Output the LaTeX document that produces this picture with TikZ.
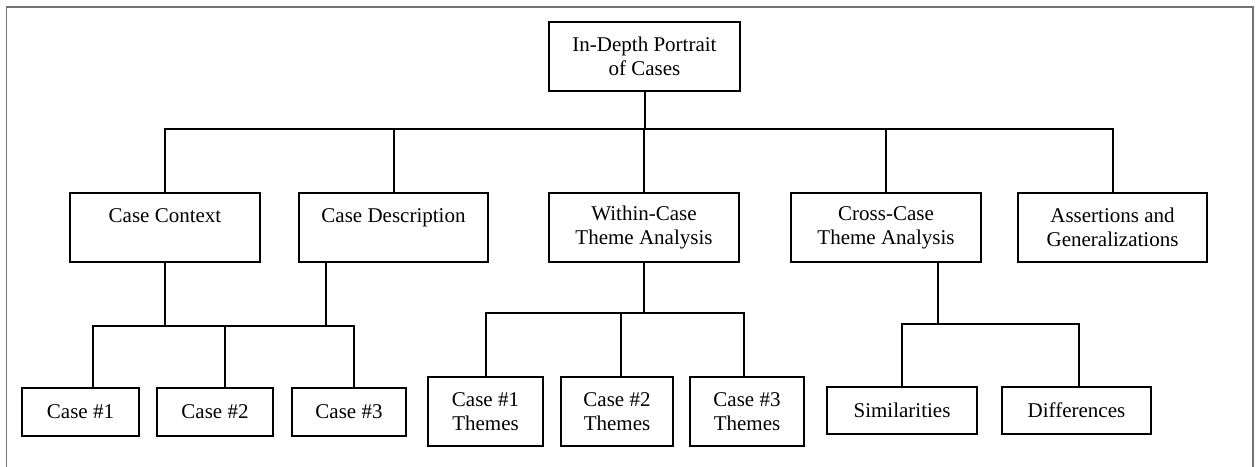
\documentclass[tikz,border=0pt]{standalone}
\usepackage{fontspec}
\setmainfont{Liberation Serif}
\begin{document}
\begin{tikzpicture}[x=0.5pt,y=-0.5pt,
  bx/.style={draw,line width=1pt,rectangle,inner sep=0pt,align=center,
             font=\fontsize{10.5}{12}\selectfont},
  ln/.style={line width=1pt},
  frm/.style={draw=black!55,line width=0.8pt}]
\useasboundingbox (0,0) rectangle (1256,466);
\draw[frm] (6.5,470) -- (6.5,7) -- (1253,7) -- (1253,470);

% top
\node[bx,minimum width=95.5pt,minimum height=34.5pt] (top) at (644.5,56.5) {In-Depth Portrait\\of Cases};

% level 2
\node[bx,minimum width=95pt,minimum height=34.5pt] (cc) at (165,227.5) {Case Context\\\mbox{}};
\node[bx,minimum width=94.5pt,minimum height=34.5pt] (cd) at (393.5,227.5) {Case Description\\\mbox{}};
\node[bx,minimum width=95pt,minimum height=34.5pt] (wc) at (644,227.5) {Within-Case\\Theme Analysis};
\node[bx,minimum width=95pt,minimum height=34.5pt] (xc) at (886,227.5) {Cross-Case\\Theme Analysis};
\node[bx,minimum width=94.5pt,minimum height=34.5pt] (ag) at (1112.5,227.5) {Assertions and\\Generalizations};

% level 3
\node[bx,minimum width=58.5pt,minimum height=24pt] (c1) at (80.5,412) {Case \#1};
\node[bx,minimum width=58pt,minimum height=24pt] (c2) at (215,412) {Case \#2};
\node[bx,minimum width=57pt,minimum height=24pt] (c3) at (349,412) {Case \#3};
\node[bx,minimum width=57.5pt,minimum height=34.5pt] (t1) at (485.5,411.5) {Case \#1\\Themes};
\node[bx,minimum width=56pt,minimum height=34.5pt] (t2) at (617,411.5) {Case \#2\\Themes};
\node[bx,minimum width=57pt,minimum height=34.5pt] (t3) at (747,411.5) {Case \#3\\Themes};
\node[bx,minimum width=75pt,minimum height=23.5pt] (sim) at (902,410.5) {Similarities};
\node[bx,minimum width=74.5pt,minimum height=23.5pt] (dif) at (1076.5,410.5) {Differences};

% bus levels
\coordinate (mb) at (0,129);
\coordinate (lb) at (0,326);
\coordinate (wb) at (0,313);
\coordinate (xb) at (0,324);

% top tree
\draw[ln] (top.south) -- (top.south |- mb);
\draw[ln] (cc.north) -- (cc.north |- mb) -| (ag.north);
\draw[ln] (cd.north) -- (cd.north |- mb);
\draw[ln] (wc.north) -- (wc.north |- mb);
\draw[ln] (xc.north) -- (xc.north |- mb);

% left tree
\coordinate (cdb) at ([xshift=-33.75pt]cd.south);
\coordinate (c1t) at ([xshift=6.25pt]c1.north);
\coordinate (c2t) at ([xshift=5pt]c2.north);
\coordinate (c3t) at ([xshift=2.5pt]c3.north);
\draw[ln] (cc.south) -- (cc.south |- lb);
\draw[ln] (cdb) -- (cdb |- lb);
\draw[ln] (c1t) -- (c1t |- lb) -| (c3t);
\draw[ln] (c2t) -- (c2t |- lb);

% within tree
\coordinate (t2t) at ([xshift=2pt]t2.north);
\coordinate (t3t) at ([xshift=-1.5pt]t3.north);
\draw[ln] (wc.south) -- (wc.south |- wb);
\draw[ln] (t1.north) -- (t1.north |- wb) -| (t3t);
\draw[ln] (t2t) -- (t2t |- wb);

% cross tree
\coordinate (xcb) at ([xshift=26pt]xc.south);
\coordinate (dft) at ([xshift=1.25pt]dif.north);
\draw[ln] (xcb) -- (xcb |- xb);
\draw[ln] (sim.north) -- (sim.north |- xb) -| (dft);
\end{tikzpicture}
\end{document}
